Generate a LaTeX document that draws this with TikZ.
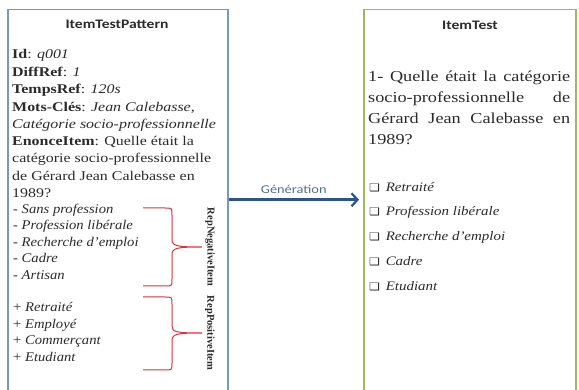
\documentclass[tikz,border=0pt]{standalone}
\usepackage{fontspec}
\setmainfont{Liberation Serif}
\newfontfamily\calfont{Carlito}[FakeStretch=1.2]
\newfontfamily\symfont{DejaVu Sans}
\usetikzlibrary{positioning,arrows.meta}
\definecolor{patblue}{HTML}{7397C9}
\definecolor{testgreen}{HTML}{9BBB59}
\definecolor{genblue}{HTML}{2E5490}
\definecolor{genlabel}{HTML}{566F93}
\definecolor{ink}{HTML}{2B2B2B}
\definecolor{bracered}{HTML}{E0303A}
\newcommand{\wl}[1]{\scalebox{1.2}[1]{#1}}
\newcommand{\listline}[1]{\scalebox{1.1}[1]{#1}}
\newcommand{\ql}[1]{\scalebox{1.2}[1]{\makebox[168.3pt][s]{#1}}}
\newcommand{\chk}[1]{\scalebox{1.15}[1]{{\symfont\fontsize{10.5}{12}\selectfont ❑}\hspace{5pt}\textit{#1}}}

\begin{document}
\begin{tikzpicture}[x=1pt,y=-1pt,
  text=ink,
  frame/.style={line width=1.5pt,minimum width=220pt,minimum height=400pt,anchor=north west,inner sep=0pt},
  title/.style={font=\calfont\bfseries\fontsize{13}{15}\selectfont},
  block/.style={anchor=north west,align=left,inner sep=0pt,font=\fontsize{13.3}{17.5}\selectfont},
  choices/.style={anchor=north west,align=left,inner sep=0pt,font=\fontsize{13.3}{16.5}\selectfont},
  sidelabel/.style={rotate=-90,font=\bfseries\fontsize{10.5}{11}\selectfont,inner sep=0pt},
  redbrace/.style={draw=bracered,line width=1pt},
  arrow/.style={-{Straight Barb[length=6pt,width=13pt,line width=2.2pt]},line width=2.5pt,draw=genblue}
]
\useasboundingbox (0,0) rectangle (579,390);
\clip (0,0) rectangle (579,390);
\fill[white] (0,0) rectangle (579,390);

\node[frame,draw=patblue] (pattern) at (7,9) {};
\node[frame,draw=testgreen,minimum width=212pt] (test) at (363,9) {};

\node[title] (ptitle) at (117,24) {ItemTestPattern};
\node[title] (ttitle) at (470,25) {ItemTest};

\node[block] (meta) at (12,49.5) {\wl{\textbf{Id}: \textit{q001}}\\
\wl{\textbf{DiffRef}: \textit{1}}\\
\wl{\textbf{TempsRef}: \textit{120s}}\\
\wl{\textbf{Mots-Clés}: \textit{Jean Calebasse,}}\\
\wl{\textit{Catégorie socio-professionnelle}}};
\node[block] (enonce) at (12,136) {\wl{\textbf{EnonceItem}: Quelle était la}\\
\wl{catégorie socio-professionnelle}\\
\wl{de Gérard Jean Calebasse en}\\
\wl{1989?}};

\node[choices] (neg) at (13,203.5) {\listline{- \textit{Sans profession}}\\
\listline{- \textit{Profession libérale}}\\
\listline{- \textit{Recherche d'emploi}}\\
\listline{- \textit{Cadre}}\\
\listline{- \textit{Artisan}}};
\node[choices] (pos) at (13,302.5) {\listline{+ \textit{Retraité}}\\
\listline{+ \textit{Employé}}\\
\listline{+ \textit{Commerçant}}\\
\listline{+ \textit{Etudiant}}};

\draw[redbrace] (143,208) -- (165,208) .. controls (172,208) .. (172,215) -- (172,239)
  .. controls (172,246) and (176,247) .. (202,247)
  .. controls (176,247) and (172,248) .. (172,255) -- (172,279)
  .. controls (172,286) .. (165,286) -- (143,286);
\draw[redbrace] (143,297) -- (165,297) .. controls (172,297) .. (172,304) -- (172,326)
  .. controls (172,332) and (176,333) .. (202,333)
  .. controls (176,333) and (172,334) .. (172,341) -- (172,363)
  .. controls (172,370) .. (165,370) -- (143,370);
\node[sidelabel] (neglabel) at (210,247) {RepNegativeItem};
\node[sidelabel] (poslabel) at (210,333) {RepPositiveItem};

\draw[arrow] ([yshift=10pt]pattern.east) -- ([yshift=10pt,xshift=-4pt]test.west)
  node[midway,above=2pt,font=\calfont\fontsize{12}{14}\selectfont,text=genlabel] (gen) {Génération};

\node[anchor=north west,inner sep=0pt,align=left,font=\fontsize{15.2}{21}\selectfont] (question) at (368,70.5)
  {\ql{1- Quelle était la catégorie}\\
\ql{socio-professionnelle de}\\
\ql{Gérard Jean Calebasse en}\\
\scalebox{1.2}[1]{1989?}};
\node[anchor=north west,inner sep=0pt,align=left,font=\fontsize{13}{24.75}\selectfont] (options) at (369,182)
  {\chk{Retraité}\\
\chk{Profession libérale}\\
\chk{Recherche d'emploi}\\
\chk{Cadre}\\
\chk{Etudiant}};
\end{tikzpicture}
\end{document}
